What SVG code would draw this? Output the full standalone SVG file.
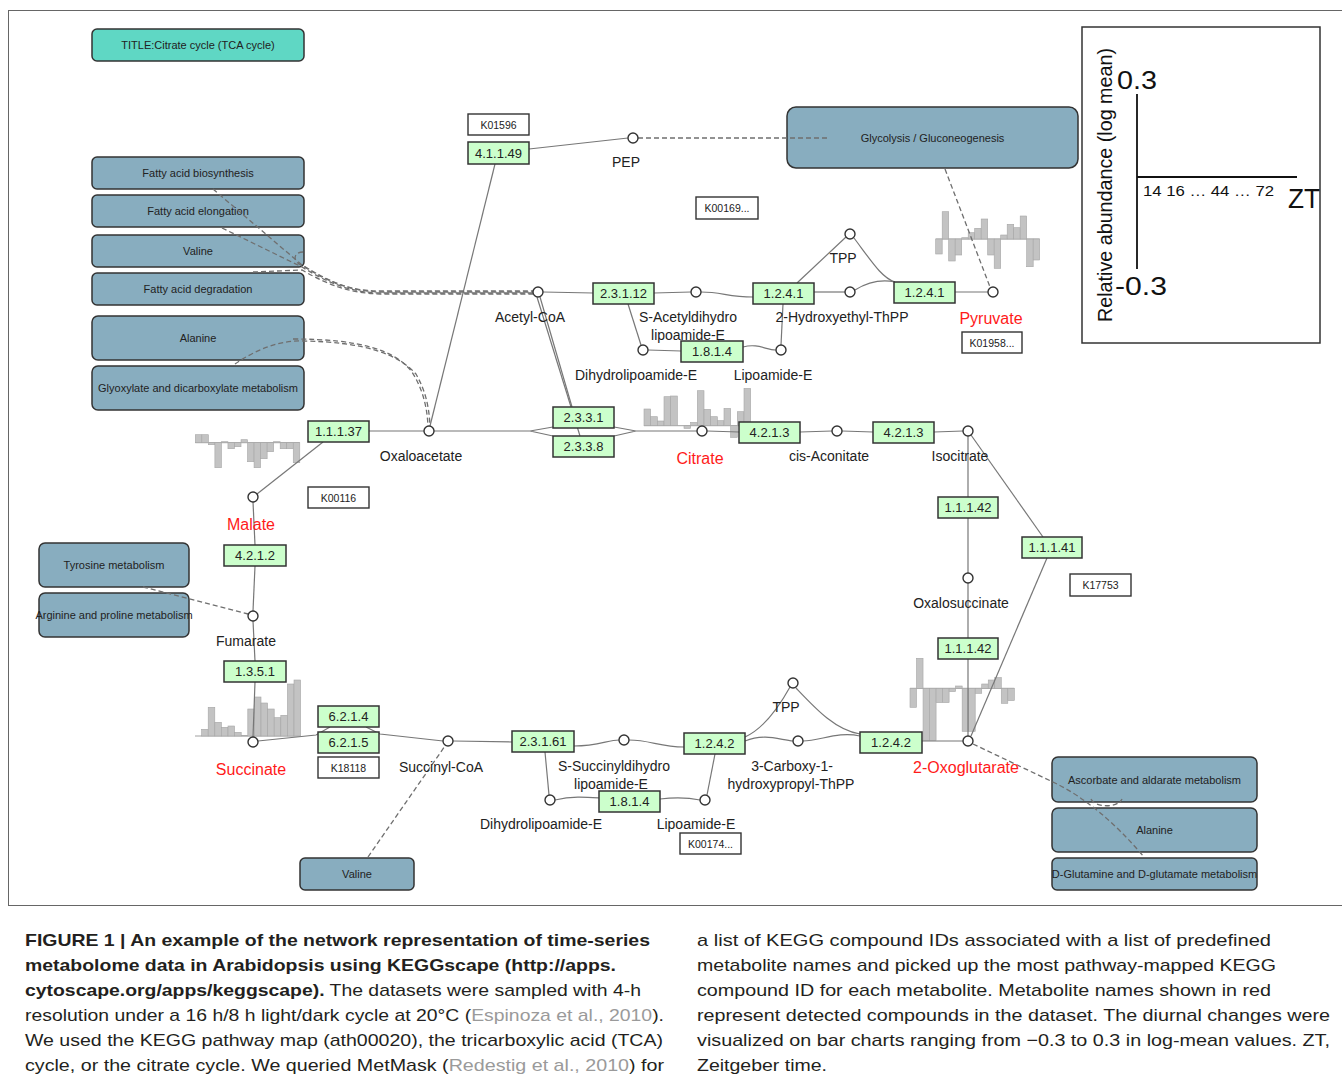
<svg xmlns="http://www.w3.org/2000/svg" width="1342" height="1084" viewBox="0 0 1342 1084">
<style>
text{font-family:"Liberation Sans",Arial,sans-serif;fill:#222}
.pw{fill:#88adbf;stroke:#333;stroke-width:1.5}
.ttl{fill:#5fd7c4;stroke:#333;stroke-width:1.5}
.ez{fill:#ccffcc;stroke:#333;stroke-width:1.5}
.kb{fill:#fff;stroke:#333;stroke-width:1.4}
.cp{fill:#fff;stroke:#333;stroke-width:1.4}
.e{fill:none;stroke:#777;stroke-width:1.2}
.d{fill:none;stroke:#6f6f6f;stroke-width:1.3;stroke-dasharray:5 3}
.bar rect{fill:#c3c3c3;stroke:#a6a6a6;stroke-width:0.6}
.zl{stroke:#a0a0a0;stroke-width:1}
.tp{font-size:11px;text-anchor:middle}
.te{font-size:13px;text-anchor:middle}
.tk{font-size:10.5px;text-anchor:middle}
.tc{font-size:14px;text-anchor:middle}
.tr{font-size:16px;text-anchor:middle;fill:#ff1a1a}
.cap{font-size:17px;fill:#231f20}
.b{font-weight:bold}
.ref{fill:#9a9a9a}
.lg{fill:#111}
</style>
<rect x="0" y="0" width="1342" height="1084" fill="#fff"/>
<rect x="8.5" y="10.5" width="1340" height="895" fill="none" stroke="#666" stroke-width="1"/>

<!-- bar charts -->
<g id="chart-malate" class="bar">
<line class="zl" x1="195.3" y1="442.7" x2="299.8" y2="442.7"/>
<rect x="195.3" y="434.7" width="6.53" height="8"/><rect x="201.83" y="434.7" width="6.53" height="8"/><rect x="208.36" y="442.7" width="6.53" height="2"/><rect x="214.89" y="442.7" width="6.53" height="25"/><rect x="221.42" y="441.7" width="6.53" height="1"/><rect x="227.95" y="442.7" width="6.53" height="6"/><rect x="234.48" y="442.7" width="6.53" height="4"/><rect x="241.01" y="439.7" width="6.53" height="3"/><rect x="247.54" y="442.7" width="6.53" height="19"/><rect x="254.07" y="442.7" width="6.53" height="25"/><rect x="260.6" y="442.7" width="6.53" height="16"/><rect x="267.13" y="442.7" width="6.53" height="9"/><rect x="273.66" y="441.7" width="6.53" height="1"/><rect x="280.19" y="442.7" width="6.53" height="6"/><rect x="286.72" y="442.7" width="6.53" height="6"/><rect x="293.25" y="442.7" width="6.53" height="20"/>
</g>
<g id="chart-succinate" class="bar">
<line class="zl" x1="195" y1="736" x2="300.6" y2="736"/>
<rect x="201.6" y="729.3" width="6.6" height="6.7"/><rect x="208.2" y="707.3" width="6.6" height="28.7"/><rect x="214.8" y="722.3" width="6.6" height="13.7"/><rect x="221.4" y="727.3" width="6.6" height="8.7"/><rect x="228" y="726" width="6.6" height="10"/><rect x="234.6" y="732.3" width="6.6" height="3.7"/><rect x="241.2" y="735.3" width="6.6" height="0.7"/><rect x="247.8" y="709" width="6.6" height="27"/><rect x="254.4" y="697" width="6.6" height="39"/><rect x="261" y="703" width="6.6" height="33"/><rect x="267.6" y="709" width="6.6" height="27"/><rect x="274.2" y="717.7" width="6.6" height="18.3"/><rect x="280.8" y="715.3" width="6.6" height="20.7"/><rect x="287.4" y="684" width="6.6" height="52"/><rect x="294" y="680" width="6.6" height="56"/>
</g>
<g id="chart-citrate" class="bar">
<line class="zl" x1="644" y1="425.7" x2="750.7" y2="425.7"/>
<rect x="644" y="409" width="6.67" height="16.7"/><rect x="650.67" y="416.7" width="6.67" height="9"/><rect x="657.33" y="421" width="6.67" height="4.7"/><rect x="664" y="396.7" width="6.67" height="29"/><rect x="670.67" y="396" width="6.67" height="29.7"/><rect x="684" y="425.7" width="6.67" height="2.7"/><rect x="690.67" y="422.4" width="6.67" height="3.3"/><rect x="697.33" y="390.7" width="6.67" height="35"/><rect x="704" y="409.4" width="6.67" height="16.3"/><rect x="710.67" y="416.7" width="6.67" height="9"/><rect x="717.33" y="420.7" width="6.67" height="5"/><rect x="724" y="408.4" width="6.67" height="17.3"/><rect x="730.67" y="425.7" width="6.67" height="11.7"/><rect x="737.33" y="411.7" width="6.67" height="14"/><rect x="744" y="388.4" width="6.67" height="37.3"/>
</g>
<g id="chart-pyruvate" class="bar">
<line class="zl" x1="935.7" y1="239" x2="1039.7" y2="239"/>
<rect x="935.7" y="239" width="6.5" height="15"/><rect x="942.2" y="211.7" width="6.5" height="27.3"/><rect x="948.7" y="239" width="6.5" height="22"/><rect x="955.2" y="239" width="6.5" height="16"/><rect x="961.7" y="237.7" width="6.5" height="1.3"/><rect x="968.2" y="232.7" width="6.5" height="6.3"/><rect x="974.7" y="228.3" width="6.5" height="10.7"/><rect x="981.2" y="219" width="6.5" height="20"/><rect x="987.7" y="239" width="6.5" height="16"/><rect x="994.2" y="239" width="6.5" height="29.3"/><rect x="1000.7" y="235" width="6.5" height="4"/><rect x="1007.2" y="224.3" width="6.5" height="14.7"/><rect x="1013.7" y="227.7" width="6.5" height="11.3"/><rect x="1020.2" y="216" width="6.5" height="23"/><rect x="1026.7" y="239" width="6.5" height="27.7"/><rect x="1033.2" y="239" width="6.5" height="21"/>
</g>
<g id="chart-oxoglutarate" class="bar">
<line class="zl" x1="910" y1="688.3" x2="1014.3" y2="688.3"/>
<rect x="910" y="688.3" width="6.52" height="19"/><rect x="916.52" y="658.3" width="6.52" height="30"/><rect x="923.04" y="688.3" width="6.52" height="52"/><rect x="929.56" y="688.3" width="6.52" height="52"/><rect x="936.08" y="688.3" width="6.52" height="14.3"/><rect x="942.6" y="688.3" width="6.52" height="14.3"/><rect x="949.12" y="688.3" width="6.52" height="3.3"/><rect x="955.64" y="686" width="6.52" height="2.3"/><rect x="962.16" y="688.3" width="6.52" height="43"/><rect x="968.68" y="688.3" width="6.52" height="43"/><rect x="975.2" y="688.3" width="6.52" height="5"/><rect x="981.72" y="684" width="6.52" height="4.3"/><rect x="988.24" y="680" width="6.52" height="8.3"/><rect x="994.76" y="677.6" width="6.52" height="10.7"/><rect x="1001.28" y="688.3" width="6.52" height="15"/><rect x="1007.8" y="688.3" width="6.52" height="12.3"/>
</g>

<!-- pathway nodes -->
<g id="title"><rect class="ttl" x="92" y="29" width="212" height="32" rx="5"/><text class="tp" x="198" y="49">TITLE:Citrate cycle (TCA cycle)</text></g>
<g id="pw-fab"><rect class="pw" x="92" y="157" width="212" height="32" rx="5"/><text class="tp" x="198" y="177">Fatty acid biosynthesis</text></g>
<g id="pw-fae"><rect class="pw" x="92" y="195" width="212" height="32" rx="5"/><text class="tp" x="198" y="215">Fatty acid elongation</text></g>
<g id="pw-val1"><rect class="pw" x="92" y="235" width="212" height="32" rx="5"/><text class="tp" x="198" y="255">Valine</text></g>
<g id="pw-fad"><rect class="pw" x="92" y="273" width="212" height="32" rx="5"/><text class="tp" x="198" y="293">Fatty acid degradation</text></g>
<g id="pw-ala1"><rect class="pw" x="92" y="316" width="212" height="44" rx="6"/><text class="tp" x="198" y="342">Alanine</text></g>
<g id="pw-gly"><rect class="pw" x="92" y="366" width="212" height="44" rx="6"/><text class="tp" x="198" y="392">Glyoxylate and dicarboxylate metabolism</text></g>
<g id="pw-glyco"><rect class="pw" x="787" y="107" width="291" height="61" rx="9"/><text class="tp" x="932.5" y="142">Glycolysis / Gluconeogenesis</text></g>
<g id="pw-tyr"><rect class="pw" x="39" y="543" width="150" height="44" rx="6"/><text class="tp" x="114" y="569">Tyrosine metabolism</text></g>
<g id="pw-arg"><rect class="pw" x="39" y="593" width="150" height="44" rx="6"/><text class="tp" x="114" y="619">Arginine and proline metabolism</text></g>
<g id="pw-val2"><rect class="pw" x="300" y="858" width="114" height="32" rx="5"/><text class="tp" x="357" y="878">Valine</text></g>
<g id="pw-asc"><rect class="pw" x="1052" y="757" width="205" height="45" rx="6"/><text class="tp" x="1154.5" y="784">Ascorbate and aldarate metabolism</text></g>
<g id="pw-ala2"><rect class="pw" x="1052" y="808" width="205" height="44" rx="6"/><text class="tp" x="1154.5" y="834">Alanine</text></g>
<g id="pw-glu"><rect class="pw" x="1052" y="858" width="205" height="32" rx="5"/><text class="tp" x="1154.5" y="878">D-Glutamine and D-glutamate metabolism</text></g>

<!-- connectors -->
<g id="connectors">
<path class="e" d="M529,149 L628,138"/>
<path class="e" d="M495,164 L430,426"/>
<path class="e" d="M543,292 L593,293"/>
<path class="e" d="M654,293 L691,292"/>
<path class="e" d="M701,292 C722,292 728,297 753,297"/>
<path class="e" d="M814,292 L845,292"/>
<path class="e" d="M855,290 C868,282 880,279 895,282"/>
<path class="e" d="M797,283 L846,237"/>
<path class="e" d="M854,238 C872,262 882,278 895,282"/>
<path class="e" d="M955,292 L988,292"/>
<path class="e" d="M628,304 L641,345"/>
<path class="e" d="M648,350 L681,351"/>
<path class="e" d="M743,347 C758,343 766,350 776,350"/>
<path class="e" d="M783,304 L781,345"/>
<path class="e" d="M540,297 L572,407"/>
<path class="e" d="M537,297 L580,436"/>
<path class="e" d="M369,431 L424,431"/>
<path class="e" d="M434,431 L530,431 L553,427 M530,431 L553,436"/>
<path class="e" d="M614,427 L636,431 L697,431 M614,436 L636,431"/>
<path class="e" d="M707,431 L739,432"/>
<path class="e" d="M800,432 L832,431"/>
<path class="e" d="M842,431 L873,432"/>
<path class="e" d="M934,432 L963,431"/>
<path class="e" d="M968,436 L968,497"/>
<path class="e" d="M968,518 L968,573"/>
<path class="e" d="M968,583 L968,638"/>
<path class="e" d="M968,659 L968,736"/>
<path class="e" d="M971,435 L1043,537"/>
<path class="e" d="M1047,558 L971,736"/>
<path class="e" d="M963,741 L922,741"/>
<path class="e" d="M323,442 L257,494"/>
<path class="e" d="M253,502 L255,545"/>
<path class="e" d="M255,566 L253,611"/>
<path class="e" d="M253,621 L255,661"/>
<path class="e" d="M255,682 L253,737"/>
<path class="e" d="M258,741 L316,735 L330,727"/>
<path class="e" d="M366,727 L380,734 L443,741"/>
<path class="e" d="M453,741 L512,742"/>
<path class="e" d="M574,746 C598,746 608,740 619,740"/>
<path class="e" d="M629,740 C650,740 660,747 684,747"/>
<path class="e" d="M545,752 L549,795"/>
<path class="e" d="M555,800 C572,796 585,797 599,798"/>
<path class="e" d="M660,799 C678,797 690,798 700,800"/>
<path class="e" d="M715,754 L707,795"/>
<path class="e" d="M745,737 C765,728 780,705 790,687"/>
<path class="e" d="M796,688 C815,708 835,730 860,734"/>
<path class="e" d="M745,741 C765,733 780,740 793,741"/>
<path class="e" d="M803,741 C820,741 838,731 860,736"/>
<path class="d" d="M638,138 L830,138"/>
<path class="d" d="M945,169 L990,287"/>
<path class="d" d="M143,587 L248,614"/>
<path class="d" d="M368,857 L445,746"/>
<path class="d" d="M973,744 L1055,783 Q1100,805 1144,857"/>
<path class="d" d="M1091,799 C1095,808 1118,808 1122,799"/>
<path class="d" d="M213,189 L302,265 C330,282 350,291 380,292 L533,292"/>
<path class="d" d="M222,228 L302,267 C330,284 350,292 380,293 L533,293"/>
<path class="d" d="M253,272 L302,270 C330,286 350,293 380,294 L533,294"/>
<path class="d" d="M303,252 C293,252 292,262 303,266 C330,283 350,291 380,291 L533,291"/>
<path class="d" d="M293,339 C360,339 395,350 412,372 C422,388 427,405 428,426"/>
<path class="d" d="M235,364 C255,350 280,340 303,341 C365,342 398,354 416,374 C425,390 429,405 430,426"/>
</g>

<!-- enzyme nodes -->
<g id="ec-4.1.1.49"><rect class="ez" x="468" y="142" width="61" height="22"/><text class="te" x="498.5" y="157.5">4.1.1.49</text></g>
<g id="ec-2.3.1.12"><rect class="ez" x="593" y="283" width="61" height="21"/><text class="te" x="623.5" y="298">2.3.1.12</text></g>
<g id="ec-1.2.4.1a"><rect class="ez" x="753" y="283" width="61" height="21"/><text class="te" x="783.5" y="298">1.2.4.1</text></g>
<g id="ec-1.2.4.1b"><rect class="ez" x="894" y="282" width="61" height="21"/><text class="te" x="924.5" y="297">1.2.4.1</text></g>
<g id="ec-1.8.1.4a"><rect class="ez" x="681" y="341" width="62" height="21"/><text class="te" x="712" y="356">1.8.1.4</text></g>
<g id="ec-1.1.1.37"><rect class="ez" x="308" y="421" width="61" height="21"/><text class="te" x="338.5" y="436">1.1.1.37</text></g>
<g id="ec-2.3.3.1"><rect class="ez" x="553" y="407" width="61" height="21"/><text class="te" x="583.5" y="422">2.3.3.1</text></g>
<g id="ec-2.3.3.8"><rect class="ez" x="553" y="436" width="61" height="21"/><text class="te" x="583.5" y="451">2.3.3.8</text></g>
<g id="ec-4.2.1.3a"><rect class="ez" x="739" y="422" width="61" height="21"/><text class="te" x="769.5" y="437">4.2.1.3</text></g>
<g id="ec-4.2.1.3b"><rect class="ez" x="873" y="422" width="61" height="21"/><text class="te" x="903.5" y="437">4.2.1.3</text></g>
<g id="ec-1.1.1.42a"><rect class="ez" x="938" y="497" width="60" height="21"/><text class="te" x="968" y="512">1.1.1.42</text></g>
<g id="ec-1.1.1.41"><rect class="ez" x="1022" y="537" width="60" height="21"/><text class="te" x="1052" y="552">1.1.1.41</text></g>
<g id="ec-1.1.1.42b"><rect class="ez" x="938" y="638" width="60" height="21"/><text class="te" x="968" y="653">1.1.1.42</text></g>
<g id="ec-4.2.1.2"><rect class="ez" x="224" y="545" width="62" height="21"/><text class="te" x="255" y="560">4.2.1.2</text></g>
<g id="ec-1.3.5.1"><rect class="ez" x="224" y="661" width="62" height="21"/><text class="te" x="255" y="676">1.3.5.1</text></g>
<g id="ec-6.2.1.4"><rect class="ez" x="318" y="706" width="61" height="21"/><text class="te" x="348.5" y="721">6.2.1.4</text></g>
<g id="ec-6.2.1.5"><rect class="ez" x="318" y="732" width="61" height="21"/><text class="te" x="348.5" y="747">6.2.1.5</text></g>
<g id="ec-2.3.1.61"><rect class="ez" x="512" y="731" width="62" height="21"/><text class="te" x="543" y="746">2.3.1.61</text></g>
<g id="ec-1.2.4.2a"><rect class="ez" x="684" y="733" width="61" height="21"/><text class="te" x="714.5" y="748">1.2.4.2</text></g>
<g id="ec-1.2.4.2b"><rect class="ez" x="860" y="732" width="62" height="21"/><text class="te" x="891" y="747">1.2.4.2</text></g>
<g id="ec-1.8.1.4b"><rect class="ez" x="599" y="791" width="61" height="21"/><text class="te" x="629.5" y="806">1.8.1.4</text></g>

<!-- KO nodes -->
<g id="ko-K01596"><rect class="kb" x="468" y="114" width="61" height="21"/><text class="tk" x="498.5" y="128.5">K01596</text></g>
<g id="ko-K00169"><rect class="kb" x="696" y="197" width="62" height="22"/><text class="tk" x="727" y="212">K00169...</text></g>
<g id="ko-K01958"><rect class="kb" x="962" y="332" width="60" height="21"/><text class="tk" x="992" y="346.5">K01958...</text></g>
<g id="ko-K00116"><rect class="kb" x="308" y="487" width="61" height="21"/><text class="tk" x="338.5" y="501.5">K00116</text></g>
<g id="ko-K18118"><rect class="kb" x="318" y="757" width="61" height="21"/><text class="tk" x="348.5" y="771.5">K18118</text></g>
<g id="ko-K17753"><rect class="kb" x="1070" y="574" width="61" height="22"/><text class="tk" x="1100.5" y="589">K17753</text></g>
<g id="ko-K00174"><rect class="kb" x="680" y="833" width="61" height="21"/><text class="tk" x="710.5" y="847.5">K00174...</text></g>

<!-- compound nodes -->
<g id="c-pep"><circle class="cp" cx="633" cy="138" r="5"/><text class="tc" x="626" y="167">PEP</text></g>
<g id="c-acetylcoa"><circle class="cp" cx="538" cy="292" r="5"/><text class="tc" x="530" y="322">Acetyl-CoA</text></g>
<g id="c-sacetyl"><circle class="cp" cx="696" cy="292" r="5"/><text class="tc" x="688" y="322">S-Acetyldihydro</text><text class="tc" x="688" y="340">lipoamide-E</text></g>
<g id="c-hydroxyethyl"><circle class="cp" cx="850" cy="292" r="5"/><text class="tc" x="842" y="322">2-Hydroxyethyl-ThPP</text></g>
<g id="c-tpp1"><circle class="cp" cx="850" cy="234" r="5"/><text class="tc" x="843" y="263">TPP</text></g>
<g id="c-pyruvate"><circle class="cp" cx="993" cy="292" r="5"/><text class="tr" x="991" y="324">Pyruvate</text></g>
<g id="c-dihydro1"><circle class="cp" cx="643" cy="350" r="5"/><text class="tc" x="636" y="380">Dihydrolipoamide-E</text></g>
<g id="c-lipo1"><circle class="cp" cx="781" cy="350" r="5"/><text class="tc" x="773" y="380">Lipoamide-E</text></g>
<g id="c-oxaloacetate"><circle class="cp" cx="429" cy="431" r="5"/><text class="tc" x="421" y="461">Oxaloacetate</text></g>
<g id="c-citrate"><circle class="cp" cx="702" cy="431" r="5"/><text class="tr" x="700" y="464">Citrate</text></g>
<g id="c-cisaconitate"><circle class="cp" cx="837" cy="431" r="5"/><text class="tc" x="829" y="461">cis-Aconitate</text></g>
<g id="c-isocitrate"><circle class="cp" cx="968" cy="431" r="5"/><text class="tc" x="960" y="461">Isocitrate</text></g>
<g id="c-oxalosuccinate"><circle class="cp" cx="968" cy="578" r="5"/><text class="tc" x="961" y="608">Oxalosuccinate</text></g>
<g id="c-oxoglutarate"><circle class="cp" cx="968" cy="741" r="5"/><text class="tr" x="966" y="773">2-Oxoglutarate</text></g>
<g id="c-tpp2"><circle class="cp" cx="793" cy="683" r="5"/><text class="tc" x="786" y="712">TPP</text></g>
<g id="c-carboxy"><circle class="cp" cx="798" cy="741" r="5"/><text class="tc" x="792" y="771">3-Carboxy-1-</text><text class="tc" x="791" y="789">hydroxypropyl-ThPP</text></g>
<g id="c-ssuccinyl"><circle class="cp" cx="624" cy="740" r="5"/><text class="tc" x="614" y="771">S-Succinyldihydro</text><text class="tc" x="611" y="789">lipoamide-E</text></g>
<g id="c-succinylcoa"><circle class="cp" cx="448" cy="741" r="5"/><text class="tc" x="441" y="772">Succinyl-CoA</text></g>
<g id="c-succinate"><circle class="cp" cx="253" cy="742" r="5"/><text class="tr" x="251" y="775">Succinate</text></g>
<g id="c-fumarate"><circle class="cp" cx="253" cy="616" r="5"/><text class="tc" x="246" y="646">Fumarate</text></g>
<g id="c-malate"><circle class="cp" cx="253" cy="497" r="5"/><text class="tr" x="251" y="530">Malate</text></g>
<g id="c-dihydro2"><circle class="cp" cx="550" cy="800" r="5"/><text class="tc" x="541" y="829">Dihydrolipoamide-E</text></g>
<g id="c-lipo2"><circle class="cp" cx="705" cy="800" r="5"/><text class="tc" x="696" y="829">Lipoamide-E</text></g>

<!-- legend -->
<g id="legend">
<rect x="1082" y="27" width="238" height="316" fill="#fff" stroke="#333" stroke-width="1.5"/>
<line x1="1137" y1="94" x2="1137" y2="269" stroke="#111" stroke-width="1.8"/>
<line x1="1137" y1="177" x2="1297" y2="177" stroke="#111" stroke-width="1.8"/>
<text class="lg" x="1117" y="89" font-size="26" textLength="40" lengthAdjust="spacingAndGlyphs">0.3</text>
<text class="lg" x="1115" y="295" font-size="26" textLength="52" lengthAdjust="spacingAndGlyphs">-0.3</text>
<text class="lg" x="1143" y="196" font-size="15" textLength="131" lengthAdjust="spacingAndGlyphs">14 16 … 44 … 72</text>
<text class="lg" x="1288" y="208" font-size="28" textLength="32" lengthAdjust="spacingAndGlyphs">ZT</text>
<text class="lg" transform="translate(1112,185) rotate(-90)" x="0" y="0" font-size="20" text-anchor="middle" textLength="274" lengthAdjust="spacingAndGlyphs">Relative abundance (log mean)</text>
</g>

<!-- caption -->
<g id="caption">
<text class="cap b" x="25" y="946" textLength="625" lengthAdjust="spacingAndGlyphs">FIGURE 1 | An example of the network representation of time-series</text>
<text class="cap b" x="25" y="971" textLength="591" lengthAdjust="spacingAndGlyphs">metabolome data in Arabidopsis using KEGGscape (http://apps.</text>
<text class="cap" x="25" y="996" textLength="616" lengthAdjust="spacingAndGlyphs"><tspan class="b">cytoscape.org/apps/keggscape).</tspan> The datasets were sampled with 4-h</text>
<text class="cap" x="25" y="1021" textLength="639" lengthAdjust="spacingAndGlyphs">resolution under a 16 h/8 h light/dark cycle at 20°C (<tspan class="ref">Espinoza et al., 2010</tspan>).</text>
<text class="cap" x="25" y="1046" textLength="638" lengthAdjust="spacingAndGlyphs">We used the KEGG pathway map (ath00020), the tricarboxylic acid (TCA)</text>
<text class="cap" x="25" y="1071" textLength="639" lengthAdjust="spacingAndGlyphs">cycle, or the citrate cycle. We queried MetMask (<tspan class="ref">Redestig et al., 2010</tspan>) for</text>
<text class="cap" x="697" y="946" textLength="574" lengthAdjust="spacingAndGlyphs">a list of KEGG compound IDs associated with a list of predefined</text>
<text class="cap" x="697" y="971" textLength="579" lengthAdjust="spacingAndGlyphs">metabolite names and picked up the most pathway-mapped KEGG</text>
<text class="cap" x="697" y="996" textLength="574" lengthAdjust="spacingAndGlyphs">compound ID for each metabolite. Metabolite names shown in red</text>
<text class="cap" x="697" y="1021" textLength="633" lengthAdjust="spacingAndGlyphs">represent detected compounds in the dataset. The diurnal changes were</text>
<text class="cap" x="697" y="1046" textLength="633" lengthAdjust="spacingAndGlyphs">visualized on bar charts ranging from −0.3 to 0.3 in log-mean values. ZT,</text>
<text class="cap" x="697" y="1071" textLength="130" lengthAdjust="spacingAndGlyphs">Zeitgeber time.</text>
</g>
</svg>
